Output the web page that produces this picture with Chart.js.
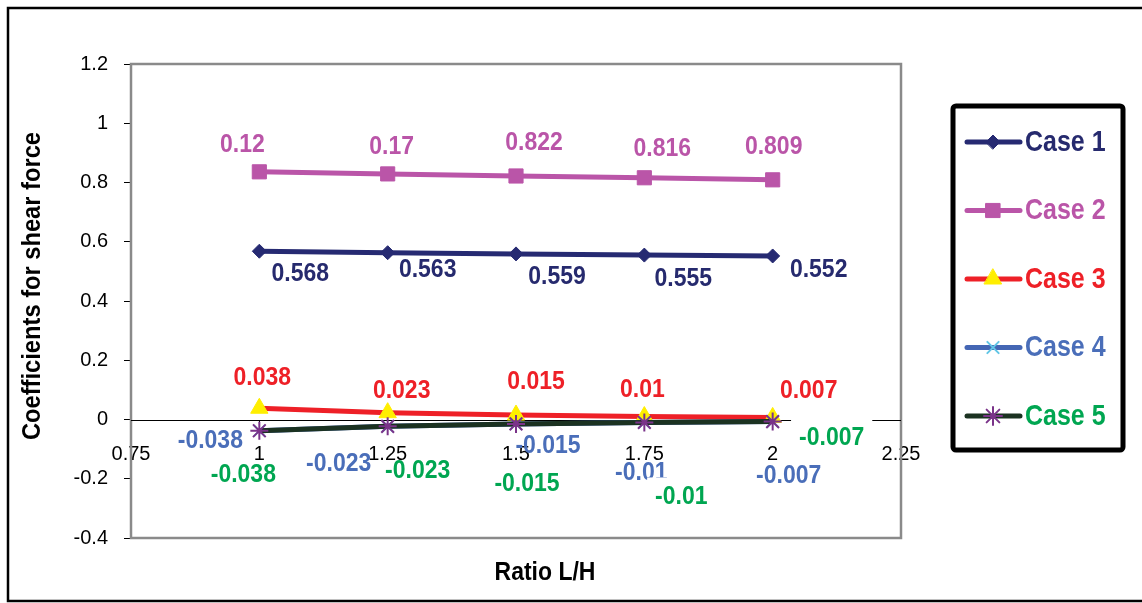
<!DOCTYPE html>
<html>
<head>
<meta charset="utf-8">
<script src="https://cdn.jsdelivr.net/npm/chart.js@4/dist/chart.umd.min.js"></script>
<style>
  html, body { margin: 0; padding: 0; background: #fff; }
  canvas { display: block; }
</style>
</head>
<body>
<canvas id="c" width="1142" height="603"></canvas>
<script>
// ---- data ----
const ratios = [1, 1.25, 1.5, 1.75, 2];
const case1 = [0.568, 0.563, 0.559, 0.555, 0.552];
const case2 = [0.836, 0.829, 0.822, 0.816, 0.809];
const case2Labels = ["0.12", "0.17", "0.822", "0.816", "0.809"];
const case3 = [0.038, 0.023, 0.015, 0.01, 0.007];
const case4 = [-0.038, -0.023, -0.015, -0.01, -0.007];
const case5 = [-0.038, -0.023, -0.015, -0.01, -0.007];
const seriesNames = ["Case 1", "Case 2", "Case 3", "Case 4", "Case 5"];
const xTickValues = [0.75, 1, 1.25, 1.5, 1.75, 2, 2.25];
const yTickValues = [-0.4, -0.2, 0, 0.2, 0.4, 0.6, 0.8, 1, 1.2];
const xTitle = "Ratio L/H";
const yTitle = "Coefficients for shear force";

// ---- label placement (offsets from the point, px) ----
const labelOffsets = [
  [[41,22],[40,17],[41,23],[39,24],[46,14]],
  [[-17,-27],[4,-27],[18,-33],[18,-29],[1,-33]],
  [[3,-31],[14,-22],[20,-33],[-2,-27],[36,-27]],
  [[-49,10],[-49,37],[32,22],[-3,50],[16,54]],
  [[-16,44],[30,44],[11,60],[37,74],[59,16]]
];
const labelBg = [null, null, null, null, [false,false,false,true,true]];
const labelColors = ["#262A6E", "#BA55A8", "#EE2027", "#4A6EB9", "#00A651"];

function pts(vals) { return ratios.map((x, i) => ({ x: x, y: vals[i] })); }
function fmt(v) { return String(Math.round(v * 1000) / 1000); }

const styles = [
  { line: "#262A72", pbg: "#262A72", pbd: "#262A72", ps: "rectRot", r: 7, pbw: 1 },
  { line: "#BA55A8", pbg: "#BA55A8", pbd: "#BA55A8", ps: "rect", r: 10, pbw: 1 },
  { line: "#EE2027", pbg: "#FFEE00", pbd: "#FFEE00", ps: "triangle", r: 10, pbw: 1 },
  { line: "#4466B4", pbg: "#62C6E6", pbd: "#62C6E6", ps: "crossRot", r: 8, pbw: 2 },
  { line: "#1B3221", pbg: "#7A3389", pbd: "#7A3389", ps: "star", r: 9, pbw: 2 }
];
const allValues = [case1, case2, case3, case4, case5];
const allLabels = [case1.map(fmt), case2Labels, case3.map(fmt), case4.map(fmt), case5.map(fmt)];

const datasets = allValues.map((vals, i) => ({
  label: seriesNames[i],
  data: pts(vals),
  borderColor: styles[i].line,
  backgroundColor: styles[i].line,
  borderWidth: 5,
  tension: 0,
  pointStyle: styles[i].ps,
  pointRadius: styles[i].r,
  pointHoverRadius: styles[i].r,
  pointBackgroundColor: styles[i].pbg,
  pointBorderColor: styles[i].pbd,
  pointBorderWidth: styles[i].pbw,
  order: 5 - i
}));

const FONT = "'Liberation Sans', Arial, sans-serif";
const STRETCH = 1.15;

function tallText(ctx, txt, x, y) {
  ctx.save();
  ctx.translate(x, y);
  ctx.scale(1, STRETCH);
  ctx.fillText(txt, 0, 0);
  ctx.restore();
}

function drawMarker(ctx, st, x, y) {
  ctx.save();
  ctx.fillStyle = st.pbg;
  ctx.strokeStyle = st.pbd;
  ctx.lineWidth = st.pbw;
  if (Chart.helpers && Chart.helpers.drawPoint) {
    Chart.helpers.drawPoint(ctx, { pointStyle: st.ps, radius: st.r, rotation: 0, borderWidth: st.pbw }, x, y);
  }
  ctx.restore();
}

const decorPlugin = {
  id: 'decor',
  beforeDraw(chart) {
    const ctx = chart.ctx;
    ctx.save();
    ctx.fillStyle = '#fff';
    ctx.fillRect(0, 0, chart.width, chart.height);
    ctx.strokeStyle = '#000';
    ctx.lineWidth = 2.5;
    ctx.strokeRect(8, 8, chart.width + 20, chart.height - 10);
    ctx.restore();
  },
  beforeDatasetsDraw(chart) {
    const ctx = chart.ctx, a = chart.chartArea;
    ctx.save();
    ctx.strokeStyle = '#8A8A8A';
    ctx.lineWidth = 2.5;
    ctx.strokeRect(a.left, a.top, a.right - a.left, a.bottom - a.top);
    const y0 = Math.round(chart.scales.y.getPixelForValue(0)) + 0.5;
    ctx.strokeStyle = '#000';
    ctx.lineWidth = 1;
    ctx.beginPath(); ctx.moveTo(a.left, y0); ctx.lineTo(a.right, y0); ctx.stroke();
    ctx.restore();
  },
  afterDatasetsDraw(chart) {
    const ctx = chart.ctx;
    ctx.save();
    ctx.font = "bold 23px " + FONT;
    ctx.textAlign = 'center';
    ctx.textBaseline = 'middle';
    allLabels.forEach((labs, di) => {
      const meta = chart.getDatasetMeta(di);
      meta.data.forEach((el, pi) => {
        const off = labelOffsets[di][pi];
        const tx = el.x + off[0], ty = el.y + off[1];
        const txt = labs[pi];
        if (labelBg[di] && labelBg[di][pi]) {
          const w = ctx.measureText(txt).width;
          ctx.fillStyle = '#fff';
          ctx.fillRect(tx - w / 2 - 8, ty - 19, w + 16, 33);
        }
        ctx.fillStyle = labelColors[di];
        tallText(ctx, txt, tx, ty);
      });
    });
    ctx.restore();
  },
  afterDraw(chart) {
    const ctx = chart.ctx;
    ctx.save();
    ctx.fillStyle = '#000';
    ctx.font = "bold 23px " + FONT;
    ctx.textAlign = 'center';
    ctx.textBaseline = 'middle';
    tallText(ctx, xTitle, 545, 573);
    ctx.restore();

    ctx.save();
    ctx.fillStyle = '#000';
    ctx.font = "bold 23px " + FONT;
    ctx.textAlign = 'center';
    ctx.textBaseline = 'middle';
    ctx.translate(33, 286);
    ctx.rotate(-Math.PI / 2);
    ctx.scale(1.03, 1.1);
    ctx.fillText(yTitle, 0, 0);
    ctx.restore();

    // legend
    ctx.save();
    const lx = 953, ly = 106, lw = 170, lh = 344;
    ctx.strokeStyle = '#000';
    ctx.lineWidth = 5;
    ctx.beginPath();
    if (ctx.roundRect) ctx.roundRect(lx, ly, lw, lh, 3); else ctx.rect(lx, ly, lw, lh);
    ctx.stroke();
    ctx.font = "bold 25px " + FONT;
    ctx.textAlign = 'left';
    ctx.textBaseline = 'middle';
    seriesNames.forEach((name, i) => {
      const y = 142 + i * 68.5;
      const st = styles[i];
      ctx.strokeStyle = st.line;
      ctx.lineWidth = 5;
      ctx.lineCap = 'round';
      ctx.beginPath(); ctx.moveTo(967, y); ctx.lineTo(1020, y); ctx.stroke();
      drawMarker(ctx, st, 993, y);
      ctx.fillStyle = labelColors[i];
      tallText(ctx, name, 1025, y + 1);
    });
    ctx.restore();
  }
};

new Chart(document.getElementById('c'), {
  type: 'line',
  data: { datasets: datasets },
  plugins: [decorPlugin],
  options: {
    responsive: false,
    devicePixelRatio: 1,
    animation: false,
    events: [],
    layout: { padding: { left: 0, top: 64, right: 241, bottom: 65 } },
    plugins: { legend: { display: false }, title: { display: false }, tooltip: { enabled: false } },
    scales: {
      x: {
        type: 'linear',
        min: 0.75, max: 2.25,
        position: { y: 0 },
        afterBuildTicks(scale) { scale.ticks = xTickValues.map(v => ({ value: v })); },
        ticks: {
          color: '#000',
          font: { family: FONT, size: 20 },
          padding: 18,
          maxRotation: 0,
          autoSkip: false,
          callback: v => fmt(v)
        },
        grid: { display: true, drawOnChartArea: false, drawTicks: true, tickLength: 5, color: '#000', lineWidth: 1 },
        border: { display: false }
      },
      y: {
        type: 'linear',
        min: -0.4, max: 1.2,
        position: 'left',
        afterBuildTicks(scale) { scale.ticks = yTickValues.map(v => ({ value: v })); },
        afterFit(scale) { scale.width = 131; },
        ticks: {
          color: '#000',
          font: { family: FONT, size: 20 },
          padding: 16,
          autoSkip: false,
          callback: v => fmt(v)
        },
        grid: { display: true, drawOnChartArea: false, drawTicks: true, tickLength: 7, color: '#000', lineWidth: 1 },
        border: { display: false }
      }
    }
  }
});
</script>
</body>
</html>
